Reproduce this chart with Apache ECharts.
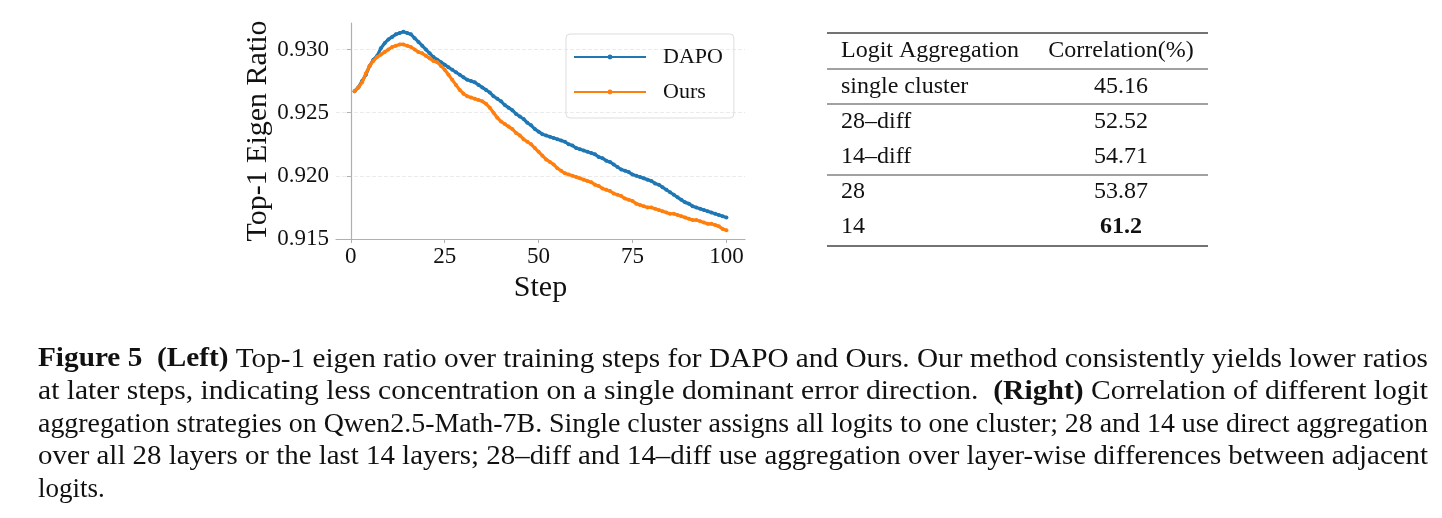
<!DOCTYPE html>
<html>
<head>
<meta charset="utf-8">
<script src="https://cdn.jsdelivr.net/npm/echarts@6/dist/echarts.min.js"></script>
<style>
html,body{margin:0;padding:0;background:#fff;}
#main{width:1442px;height:518px;}
</style>
</head>
<body>
<div id="main"></div>
<script>
// top-1 eigen ratio per training step
var dapo=[
0.9267,0.9270,0.9275,0.9280,0.9287,0.9292,0.9295,0.9301,0.9305,0.9308,
0.9310,0.9312,0.9313,0.9314,0.9313,0.9312,0.9309,0.9306,0.9303,0.9300,
0.9297,0.9294,0.9292,0.9290,0.9288,0.9286,0.9284,0.9282,0.9280,0.9278,
0.9276,0.9275,0.9274,0.9272,0.9270,0.9268,0.9266,0.9263,0.9261,0.9259,
0.9256,0.9254,0.9252,0.9249,0.9247,0.9245,0.9242,0.9240,0.9237,0.9235,
0.9233,0.9232,0.9231,0.9230,0.9229,0.9228,0.9227,0.9225,0.9224,0.9222,
0.9221,0.9220,0.9219,0.9218,0.9217,0.9215,0.9214,0.9212,0.9211,0.9209,
0.9207,0.9205,0.9204,0.9203,0.9201,0.9200,0.9199,0.9198,0.9197,0.9196,
0.9194,0.9193,0.9191,0.9189,0.9187,0.9185,0.9183,0.9181,0.9179,0.9178,
0.9176,0.9175,0.9174,0.9173,0.9172,0.9171,0.9170,0.9169,0.9168,0.9167
];
var ours=[
0.9267,0.9270,0.9274,0.9281,0.9287,0.9291,0.9294,0.9296,0.9298,0.9300,
0.9302,0.9303,0.9304,0.9304,0.9303,0.9302,0.9300,0.9298,0.9297,0.9295,
0.9293,0.9291,0.9290,0.9287,0.9284,0.9280,0.9276,0.9272,0.9268,0.9265,
0.9263,0.9262,0.9261,0.9260,0.9259,0.9257,0.9254,0.9250,0.9246,0.9243,
0.9241,0.9239,0.9237,0.9234,0.9232,0.9229,0.9227,0.9225,0.9222,0.9219,
0.9216,0.9213,0.9211,0.9209,0.9206,0.9204,0.9202,0.9201,0.9200,0.9199,
0.9198,0.9197,0.9196,0.9195,0.9193,0.9192,0.9190,0.9189,0.9188,0.9186,
0.9185,0.9184,0.9182,0.9181,0.9180,0.9178,0.9177,0.9176,0.9175,0.9175,
0.9174,0.9173,0.9172,0.9171,0.9170,0.9170,0.9169,0.9168,0.9167,0.9166,
0.9165,0.9165,0.9164,0.9163,0.9162,0.9162,0.9161,0.9160,0.9158,0.9157
];
var xTicks=[0,25,50,75,100];
var yTicks=[0.915,0.920,0.925,0.930];

// table on the right
var tableHead=['Logit Aggregation','Correlation(%)'];
var tableNames=['single cluster','28–diff','14–diff','28','14'];
var tableVals=['45.16','52.52','54.71','53.87','61.2'];

// caption lines ({b|..} = bold)
var captionLines=[
'{b|Figure 5}  {b|(Left)} Top-1 eigen ratio over training steps for DAPO and Ours. Our method consistently yields lower ratios',
'at later steps, indicating less concentration on a single dominant error direction.  {b|(Right)} Correlation of different logit',
'aggregation strategies on Qwen2.5-Math-7B. Single cluster assigns all logits to one cluster; 28 and 14 use direct aggregation',
'over all 28 layers or the last 14 layers; 28–diff and 14–diff use aggregation over layer-wise differences between adjacent',
'logits.'
];

var serif='"Liberation Serif", "Times New Roman", serif';
var capSize=27;

function toPairs(vals){
	var out=[];
	for(var i=0;i<vals.length;i++){
		out.push([i+1,vals[i]]);
	}
	return out;
}

// width of a caption line, bold parts measured in bold
var measureCtx=document.createElement('canvas').getContext('2d');
function lineWidth(str){
	var w=0;
	var parts=str.split(/(\{b\|[^}]*\})/);
	for(var i=0;i<parts.length;i++){
		var p=parts[i];
		if(!p) continue;
		if(p.indexOf('{b|')==0){
			measureCtx.font='bold '+capSize+'px '+serif;
			w+=measureCtx.measureText(p.slice(3,-1)).width;
		}else{
			measureCtx.font=capSize+'px '+serif;
			w+=measureCtx.measureText(p).width;
		}
	}
	return w;
}

var chart=echarts.init(document.getElementById('main'));

var graphics=[];
// table rules
var tx0=827,tx1=1208;
var rules=[{y:33,w:1.6},{y:69,w:1.2},{y:104,w:1.2},{y:175,w:1.2},{y:246,w:1.6}];
for(var r=0;r<rules.length;r++){
	graphics.push({
		type:'line',
		shape:{x1:tx0,y1:rules[r].y,x2:tx1,y2:rules[r].y},
		style:{stroke:'#444',lineWidth:rules[r].w}
	});
}
var rowY=[51,87,122,157,192,227];
var tFont='24px '+serif;
graphics.push({type:'text',x:841,y:rowY[0],style:{text:tableHead[0],font:tFont,fill:'#111',textVerticalAlign:'middle'}});
graphics.push({type:'text',x:1121,y:rowY[0],style:{text:tableHead[1],font:tFont,fill:'#111',textAlign:'center',textVerticalAlign:'middle'}});
for(var k=0;k<tableNames.length;k++){
	var bold=(k==tableNames.length-1);
	graphics.push({type:'text',x:841,y:rowY[k+1],style:{text:tableNames[k],font:tFont,fill:'#111',textVerticalAlign:'middle'}});
	graphics.push({type:'text',x:1121,y:rowY[k+1],style:{text:tableVals[k],font:(bold?'bold ':'')+tFont,fill:'#111',textAlign:'center',textVerticalAlign:'middle'}});
}
// caption, lines 1-4 justified to the full width by a slight horizontal stretch
var capY=[359.5,392,424.5,457,489.5];
var capX0=38,capX1=1428;
for(var c=0;c<captionLines.length;c++){
	var sx=1;
	if(c<captionLines.length-1){
		sx=(capX1-capX0)/lineWidth(captionLines[c]);
	}
	graphics.push({
		type:'text',x:capX0,y:capY[c],scaleX:sx,
		style:{
			text:captionLines[c],
			fontFamily:serif,fontSize:capSize,fill:'#111',
			textVerticalAlign:'middle',
			rich:{b:{fontFamily:serif,fontSize:capSize,fontWeight:'bold',fill:'#111'}}
		}
	});
}

var option={
	backgroundColor:'#ffffff',
	animation:false,
	grid:{left:336,top:23,width:409,height:216,containLabel:false},
	legend:{
		orient:'vertical',
		left:566,top:34,
		padding:[12,11,15,7],
		itemGap:13,
		itemWidth:72,
		itemHeight:6,
		borderColor:'#dddddd',
		borderWidth:1,
		borderRadius:4,
		textStyle:{fontFamily:serif,fontSize:22,color:'#111',padding:[0,0,0,12]},
		data:['DAPO','Ours']
	},
	xAxis:{
		type:'value',
		min:-3.95,max:104.95,
		name:'Step',
		nameLocation:'middle',
		nameGap:34,
		nameMoveOverlap:false,
		nameTextStyle:{fontFamily:serif,fontSize:30,color:'#111'},
		axisLine:{lineStyle:{color:'#b0b0b0',width:1.2}},
		axisTick:{show:true,length:4,lineStyle:{color:'#b0b0b0'},customValues:xTicks},
		axisLabel:{customValues:xTicks,fontFamily:serif,fontSize:23,color:'#111',margin:6},
		splitLine:{show:false}
	},
	yAxis:{
		type:'value',
		min:0.915,max:0.9321,
		name:'Top-1 Eigen Ratio',
		nameLocation:'middle',
		nameGap:63,
		nameMoveOverlap:false,
		nameTextStyle:{fontFamily:serif,fontSize:30,color:'#111'},
		axisLine:{show:true,lineStyle:{color:'#b0b0b0',width:1.2}},
		axisTick:{show:true,length:4,lineStyle:{color:'#b0b0b0'},customValues:yTicks},
		axisLabel:{customValues:yTicks,fontFamily:serif,fontSize:23,color:'#111',margin:7,
			formatter:function(v){return v.toFixed(3);}},
		splitLine:{show:true,lineStyle:{color:'#ebebeb',type:'dashed',width:1}}
	},
	series:[
		{
			name:'DAPO',type:'line',data:toPairs(dapo),
			color:'#1f77b4',
			symbol:'circle',symbolSize:4,showSymbol:true,
			lineStyle:{width:3.2},
			z:2
		},
		{
			name:'Ours',type:'line',data:toPairs(ours),
			color:'#ff7f0e',
			symbol:'circle',symbolSize:4,showSymbol:true,
			lineStyle:{width:3.2},
			z:3
		}
	],
	graphic:graphics
};
chart.setOption(option);
</script>
</body>
</html>
